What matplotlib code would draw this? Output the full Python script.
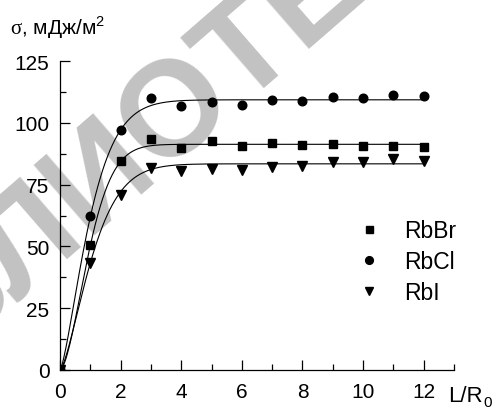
import numpy as np
import matplotlib
matplotlib.use("Agg")
import matplotlib.pyplot as plt
from matplotlib.ticker import MultipleLocator

plt.rcParams['font.family'] = ['Liberation Sans', 'DejaVu Sans']
plt.rcParams['mathtext.fontset'] = 'custom'
plt.rcParams['mathtext.rm'] = 'Liberation Serif'
plt.rcParams['mathtext.sf'] = 'Liberation Sans'

# measured points, L/R0 = 0..12
ratio = [0, 1, 2, 3, 4, 5, 6, 7, 8, 9, 10, 11, 12]
rbbr = [0, 50.4, 84.4, 93.6, 90.0, 92.7, 90.8, 92.0, 91.0, 91.4, 90.8, 90.7, 90.1]
rbcl = [0, 62.2, 97.1, 110.0, 106.6, 108.6, 107.3, 109.3, 109.0, 110.3, 110.0, 111.1, 110.9]
rbi = [0, 43.3, 70.7, 81.9, 80.6, 81.3, 80.8, 82.3, 82.6, 84.0, 84.0, 85.2, 84.6]

# fitted curves: sigma = A * (1 - exp(-(x/b)**n))
fit_rbbr = (91.3, 1.14, 1.68)
fit_rbcl = (109.3, 1.137, 1.39)
fit_rbi = (83.4, 1.24, 1.45)

fig = plt.figure(figsize=(4.94, 4.10), dpi=100)
ax = fig.add_axes([60/494, 1 - 371/410, 394/494, 309/410])

# watermark behind the data
ax.text(128/494, 1 - 152/410, 'БИБЛИОТЕКА', transform=fig.transFigure,
        fontsize=97, fontweight='bold', color='#c2c2c2', rotation=41,
        ha='center', va='center', rotation_mode='anchor', zorder=0.5, clip_on=False)

xx = np.linspace(0, 12, 300)
for (a, b, n) in (fit_rbbr, fit_rbcl, fit_rbi):
    ax.plot(xx, a * (1 - np.exp(-(xx / b) ** n)), color='black', lw=0.8, zorder=2)

ax.plot(ratio, rbbr, 's', color='black', ms=5.6, label='RbBr', zorder=3)
ax.plot(ratio, rbcl, 'o', color='black', ms=6.2, label='RbCl', zorder=3)
ax.plot(ratio, rbi, 'v', color='black', ms=7, label='RbI', zorder=3)

ax.set_xlim(0, 13)
ax.set_ylim(0, 125)
ax.xaxis.set_major_locator(MultipleLocator(2))
ax.xaxis.set_minor_locator(MultipleLocator(1))
ax.yaxis.set_major_locator(MultipleLocator(25))
ax.yaxis.set_minor_locator(MultipleLocator(12.5))
ax.set_xticks([0, 2, 4, 6, 8, 10, 12])
ax.spines['top'].set_visible(False)
ax.spines['right'].set_visible(False)
for s in ('left', 'bottom'):
    ax.spines[s].set_linewidth(0.9)
ax.tick_params(which='both', direction='in', width=0.9, labelsize=15)
ax.tick_params(which='major', length=7)
ax.tick_params(axis='y', which='major', pad=7.5)
ax.tick_params(axis='x', which='major', pad=9)
ax.tick_params(which='minor', length=4.3)

leg = ax.legend(loc='upper left', bbox_to_anchor=(358/494, 1 - 220/410),
                bbox_transform=fig.transFigure, frameon=False, fontsize=16.5,
                handlelength=1.0, handletextpad=1.0, labelspacing=0.36,
                borderpad=0, borderaxespad=0, markerscale=0.9, numpoints=1)

fig.text(10/494, 1 - 35/410, r'$\mathrm{\sigma}$, мДж/м$^{\mathsf{2}}$', fontsize=15, va='baseline')
fig.text(448/494, 1 - 402/410, 'L/R', fontsize=16, va='baseline')
fig.text(483/494, 1 - 407/410, '0', fontsize=11, va='baseline')

fig.savefig('out.png', dpi=100)
